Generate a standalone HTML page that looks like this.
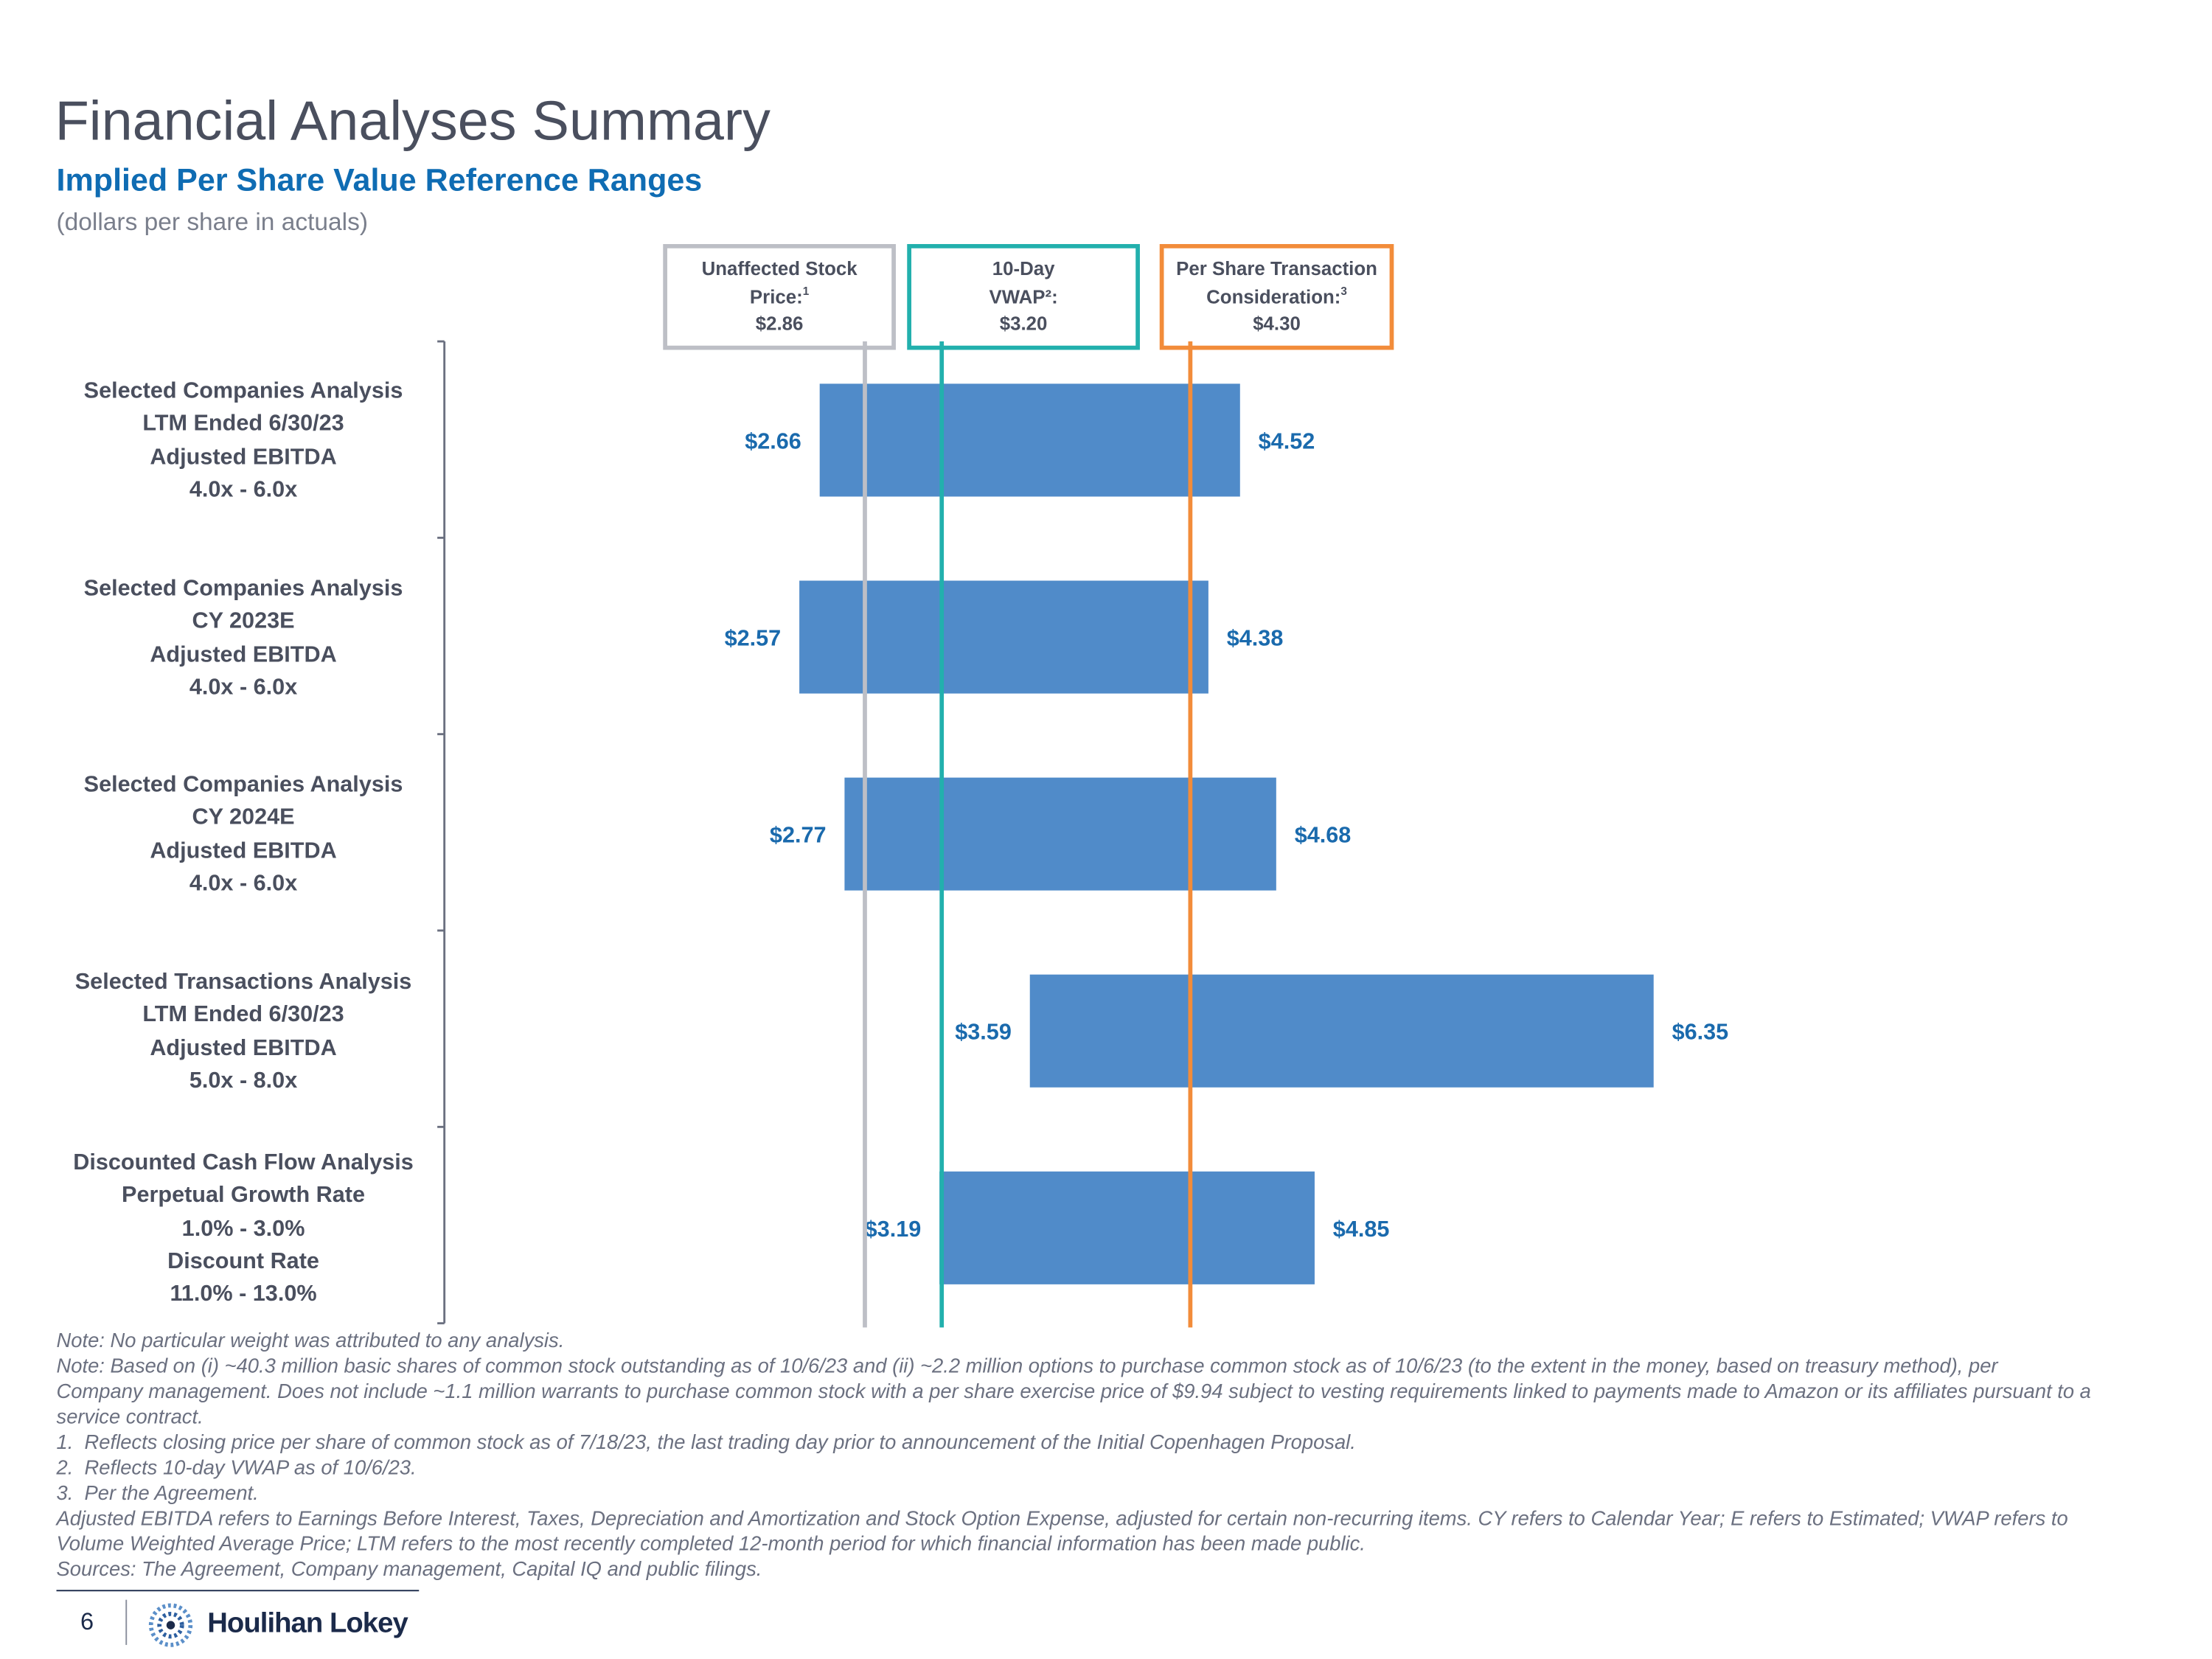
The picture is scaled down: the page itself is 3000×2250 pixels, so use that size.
<!DOCTYPE html>
<html><head><meta charset="utf-8"><style>
html,body{margin:0;padding:0;background:#fff;}
#wrap{width:1568px;height:1176px;position:relative;transform:scale(1.9133);transform-origin:0 0;font-family:"Liberation Sans",sans-serif;overflow:hidden}
.abs{position:absolute;white-space:nowrap}
.note{position:absolute;left:40px;font-style:italic;font-size:14.3px;color:#6b7080;line-height:18px;width:1520px}
.rl{position:absolute;left:30px;width:285px;text-align:center;font-weight:bold;font-size:16px;color:#4a4f5e;line-height:23.3px}
.box{position:absolute;top:173px;height:64px;border:3px solid;text-align:center;font-weight:bold;font-size:13.5px;color:#4a4f5e;line-height:19.5px;padding-top:5px;box-sizing:content-box}
sup{font-size:8px;line-height:0;vertical-align:6px}
</style></head><body>
<div id="wrap">
<div class="abs" style="left:39px;top:64px;font-size:39.5px;color:#4a4f5e">Financial Analyses Summary</div>
<div class="abs" style="left:40px;top:115px;font-size:22.5px;font-weight:bold;color:#0f6cb3">Implied Per Share Value Reference Ranges</div>
<div class="abs" style="left:40px;top:147px;font-size:17.5px;color:#7a7f8c">(dollars per share in actuals)</div>

<div class="box" style="left:470px;width:159px;border-color:#bdbfc6">Unaffected Stock<br>Price:<sup>1</sup><br>$2.86</div>
<div class="box" style="left:643px;width:159px;border-color:#22b0ad">10-Day<br>VWAP²:<br>$3.20</div>
<div class="box" style="left:822px;width:160px;border-color:#f28c3a">Per Share Transaction<br>Consideration:<sup>3</sup><br>$4.30</div>

<svg id="chart" class="abs" style="left:0;top:0" width="1568" height="1176"></svg>

<div class="rl" style="top:266px">Selected Companies Analysis<br>LTM Ended 6/30/23<br>Adjusted EBITDA<br>4.0x - 6.0x</div>
<div class="rl" style="top:406px">Selected Companies Analysis<br>CY 2023E<br>Adjusted EBITDA<br>4.0x - 6.0x</div>
<div class="rl" style="top:545px">Selected Companies Analysis<br>CY 2024E<br>Adjusted EBITDA<br>4.0x - 6.0x</div>
<div class="rl" style="top:685px">Selected Transactions Analysis<br>LTM Ended 6/30/23<br>Adjusted EBITDA<br>5.0x - 8.0x</div>
<div class="rl" style="top:813px">Discounted Cash Flow Analysis<br>Perpetual Growth Rate<br>1.0% - 3.0%<br>Discount Rate<br>11.0% - 13.0%</div>

<div class="note" style="top:942px">Note: No particular weight was attributed to any analysis.<br>Note: Based on (i) ~40.3 million basic shares of common stock outstanding as of 10/6/23 and (ii) ~2.2 million options to purchase common stock as of 10/6/23 (to the extent in the money, based on treasury method), per<br>Company management. Does not include ~1.1 million warrants to purchase common stock with a per share exercise price of $9.94 subject to vesting requirements linked to payments made to Amazon or its affiliates pursuant to a<br>service contract.<br>1.&nbsp; Reflects closing price per share of common stock as of 7/18/23, the last trading day prior to announcement of the Initial Copenhagen Proposal.<br>2.&nbsp; Reflects 10-day VWAP as of 10/6/23.<br>3.&nbsp; Per the Agreement.<br>Adjusted EBITDA refers to Earnings Before Interest, Taxes, Depreciation and Amortization and Stock Option Expense, adjusted for certain non-recurring items. CY refers to Calendar Year; E refers to Estimated; VWAP refers to<br>Volume Weighted Average Price; LTM refers to the most recently completed 12-month period for which financial information has been made public.<br>Sources: The Agreement, Company management, Capital IQ and public filings.</div>
<div class="abs" style="left:40px;top:1127px;width:257px;height:1px;background:#1b2a4a"></div>
<div class="abs" style="left:57px;top:1140px;font-size:17px;color:#1b2a4a">6</div>
<div class="abs" style="left:89px;top:1134px;width:1px;height:32px;background:#8a8f9c"></div>
<svg class="abs" style="left:105px;top:1136px" width="32" height="32"><circle cx="16" cy="16" r="14" fill="none" stroke="#5b8fc9" stroke-width="3" stroke-dasharray="2 2"/><circle cx="16" cy="16" r="8" fill="none" stroke="#2d5fa0" stroke-width="3" stroke-dasharray="2 2"/><circle cx="16" cy="16" r="3" fill="#1b2a4a"/></svg>
<div class="abs" style="left:147px;top:1140px;font-size:20px;font-weight:bold;color:#1b2a4a;letter-spacing:-0.5px">Houlihan Lokey</div>
</div>
<script>
const categories=["Selected Companies LTM","Selected Companies CY2023E","Selected Companies CY2024E","Selected Transactions","DCF"];
const lowValues=[2.66,2.57,2.77,3.59,3.19];
const highValues=[4.52,4.38,4.68,6.35,4.85];
const refValues=[2.86,3.20,4.30];
const refColors=["#bdbfc6","#22b0ad","#f28c3a"];
const refNames=["unaffected-price-line","vwap-line","transaction-consideration-line"];
const NS="http://www.w3.org/2000/svg";
const svg=document.getElementById('chart');
const x=v=>154.9+v*160.2;
const rowTop=i=>272+i*139.6;
function mk(t,a){const e=document.createElementNS(NS,t);for(const k in a)e.setAttribute(k,a[k]);svg.appendChild(e);return e;}
const ax=mk('line',{x1:315,y1:242,x2:315,y2:938,stroke:'#6b7080','stroke-width':1.5});


for(let i=0;i<=categories.length;i++){const y=242+i*139.2;const t=mk('line',{x1:310,y1:y,x2:315,y2:y,stroke:'#6b7080','stroke-width':1.5});

}
categories.forEach((c,i)=>{
 const y=rowTop(i);
 const b=mk('rect',{x:x(lowValues[i]),y:y,width:x(highValues[i])-x(lowValues[i]),height:80,fill:'#508bc9'});
 
 
 const l=mk('text',{x:x(lowValues[i])-13,y:y+46,'text-anchor':'end','font-size':16,'font-weight':'bold',fill:'#1a6aad','font-family':'Liberation Sans'});l.textContent='$'+lowValues[i].toFixed(2);
 
 
 const h=mk('text',{x:x(highValues[i])+13,y:y+46,'font-size':16,'font-weight':'bold',fill:'#1a6aad','font-family':'Liberation Sans'});h.textContent='$'+highValues[i].toFixed(2);
 
 
});
refValues.forEach((v,i)=>{const l=mk('line',{x1:x(v),y1:242,x2:x(v),y2:941,stroke:refColors[i],'stroke-width':3});
 
 });
</script>
</body></html>
